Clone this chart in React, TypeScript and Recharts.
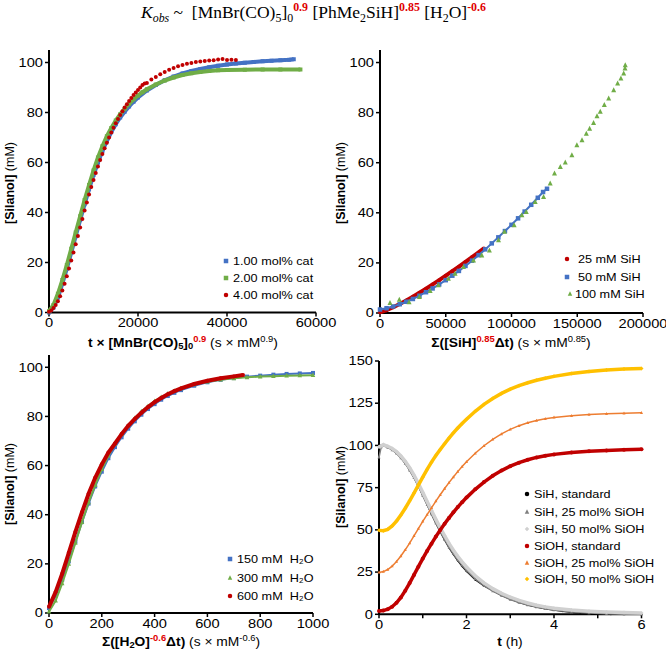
import React from 'react';
import { ScatterChart, Scatter, XAxis, YAxis } from 'recharts';

// ---------- top-left: t x [cat]^0.9 ----------
const cat1 = [
  [0, 0], [1000, 2], [2000, 6], [3000, 11.5], [4000, 17.5], [5000, 24], [6000, 30.5], [7000, 37],
  [8000, 43.3], [9000, 49.3], [10000, 55], [11000, 60], [12000, 64.6], [13000, 68.6], [14000, 72.2],
  [15000, 75.3], [16000, 78], [17000, 80.3], [18000, 82.4], [19000, 84.3], [20000, 86], [22000, 88.8],
  [24000, 91], [26000, 92.9], [28000, 94.4], [30000, 95.6], [32000, 96.6], [34000, 97.4], [36000, 98.1],
  [38000, 98.7], [40000, 99.2], [42000, 99.6], [44000, 99.9], [46000, 100.2], [48000, 100.5],
  [50000, 100.7], [52000, 100.9], [54000, 101.1], [55000, 101.3],
];
const cat2 = [
  [0, 0.5], [1000, 3], [2000, 7.5], [3000, 13], [4000, 19], [5000, 25.5], [6000, 32], [7000, 38.5],
  [8000, 45], [9000, 51], [10000, 56.8], [11000, 62], [12000, 66.5], [13000, 70.5], [14000, 73.8],
  [15000, 76.8], [16000, 79.3], [17000, 81.5], [18000, 83.5], [19000, 85.3], [20000, 86.8], [21000, 88.1],
  [22000, 89.3], [24000, 91.2], [26000, 92.8], [28000, 94], [30000, 95], [32000, 95.7], [34000, 96.2],
  [36000, 96.6], [38000, 96.9], [40000, 97], [44000, 97.1], [48000, 97.2], [52000, 97.2], [56500, 97.2],
];
const cat4 = [
  [0, 0.3], [500, 0.8], [1000, 1.8], [1500, 3], [2000, 4.5], [2500, 6.5], [3000, 8.8], [3500, 11.5],
  [4000, 14.5], [4500, 17.6], [5000, 20.8], [5500, 24], [6000, 27.3], [6500, 30.6], [7000, 34],
  [7500, 37.4], [8000, 40.8], [8500, 44], [9000, 47.2], [9500, 50.2], [10000, 53], [10500, 55.8],
  [11000, 58.4], [11500, 61], [12000, 63.4], [12500, 65.7], [13000, 67.9], [13500, 70], [14000, 72],
  [14500, 73.9], [15000, 75.7], [15500, 77.4], [16000, 79], [16500, 80.5], [17000, 82], [17500, 83.3],
  [18000, 84.6], [18500, 85.8], [19000, 87], [19500, 88], [20000, 89], [20500, 90], [21000, 91],
  [21500, 91.6], [22000, 91.8], [23000, 93.2], [24000, 94.2], [25000, 95.3], [26000, 96.2], [27000, 97.1],
  [28000, 97.8], [29000, 98.5], [30000, 99], [31000, 99.5], [32000, 99.8], [33000, 100.2], [34000, 100.4],
  [35000, 100.6], [36000, 100.8], [37000, 100.9], [38000, 101.2], [39000, 101.4], [40000, 101],
  [41000, 101.1], [42000, 101],
];

// ---------- top-right: sum([SiH]^0.85 dt) ----------
const sih25 = [
  [0, 0.3], [5000, 1.1], [10000, 2.3], [15000, 3.6], [20000, 5], [25000, 6.5], [30000, 8.1], [35000, 9.7],
  [40000, 11.4], [45000, 13.1], [50000, 14.9], [55000, 16.7], [60000, 18.5], [65000, 20.4], [70000, 22.3],
  [75000, 24.2], [79000, 25.8],
];
const sih50 = [
  [0, 1.4], [5000, 1.9], [10000, 2.6], [15000, 3.5], [20000, 4.5], [25000, 5.6], [30000, 6.9], [35000, 8.3],
  [40000, 9.8], [45000, 11.4], [50000, 13.1], [55000, 14.9], [60000, 16.8], [65000, 18.8], [70000, 20.9],
  [75000, 23.1], [80000, 25.4], [85000, 27.8], [90000, 30.2], [95000, 32.7], [100000, 35.2], [105000, 37.8],
  [110000, 40.5], [115000, 43.2], [120000, 46], [124000, 48.3], [127000, 49.6],
];
const sih100 = [
  [7600, 4], [14700, 5.3], [22100, 4.3], [30000, 6.4], [38100, 8.8], [44400, 11.1], [52000, 13.7],
  [57100, 15.7], [63500, 18.4], [71100, 21], [77400, 23], [83200, 25], [90100, 29], [94700, 32.4],
  [102000, 35], [107900, 39], [111200, 40.3], [118000, 44.3], [124400, 46.3], [129400, 51.7], [132700, 55.7],
  [137100, 58.3], [140900, 60.1], [145900, 63], [149700, 67], [153600, 69], [156900, 71.6], [159400, 73.6],
  [162400, 75.9], [165000, 78.6], [167500, 80.3], [170600, 83], [173900, 85.6], [177700, 88.9],
  [180700, 91.6], [183200, 93.6], [185300, 95.6], [186300, 97.6], [186500, 98.9],
];

// ---------- bottom-left: sum([H2O]^-0.6 dt) ----------
const h2o150 = [
  [0, 2], [25, 7], [50, 13.5], [75, 21], [100, 29], [125, 37], [150, 44.5], [175, 51.5], [200, 57.5],
  [225, 63], [250, 67.5], [275, 71.5], [300, 75], [325, 78], [350, 80.7], [375, 83], [400, 85], [425, 86.8],
  [450, 88.3], [475, 89.6], [500, 90.7], [550, 92.5], [600, 93.9], [650, 94.9], [700, 95.6], [750, 96.2],
  [800, 96.6], [850, 97], [900, 97.3], [950, 97.5], [1000, 97.7],
];
const h2o300 = [
  [0, 0.5], [25, 5], [50, 12], [75, 20], [100, 28.5], [125, 37], [150, 45], [175, 52], [200, 58.5],
  [225, 64], [250, 68.8], [275, 72.8], [300, 76.3], [325, 79.3], [350, 82], [375, 84.2], [400, 86.2],
  [425, 87.8], [450, 89.2], [475, 90.4], [500, 91.4], [550, 93], [600, 94.1], [650, 94.9], [700, 95.5],
  [750, 95.9], [800, 96.2], [850, 96.4], [900, 96.6], [950, 96.7], [1000, 96.8],
];
const h2o600 = [
  [0, 2.5], [25, 8.5], [50, 16], [75, 24.5], [100, 33], [125, 41], [150, 48.5], [175, 55], [200, 60.5],
  [225, 65.3], [250, 69], [275, 72.8], [300, 76.2], [325, 79], [350, 81.5], [375, 83.8], [400, 85.8],
  [425, 87.5], [450, 89], [475, 90.3], [500, 91.4], [550, 93.2], [600, 94.5], [650, 95.5], [700, 96.3],
  [735, 96.9],
];

// ---------- bottom-right: time course (h) ----------
const sihStd = [
  [0, 100], [0.1, 100.3], [0.2, 99], [0.3, 97.5], [0.4, 95.5], [0.5, 92.8], [0.6, 89.5], [0.7, 85.5],
  [0.8, 81], [0.9, 76], [1.0, 70.5], [1.1, 65], [1.2, 59.5], [1.3, 54], [1.4, 49], [1.5, 44], [1.6, 39.5],
  [1.7, 35.5], [1.8, 31.8], [1.9, 28.5], [2.0, 25.5], [2.2, 20.5], [2.4, 16.8], [2.6, 14], [2.8, 11.3],
  [3.0, 9], [3.2, 7.1], [3.4, 5.5], [3.6, 4.3], [3.8, 3.3], [4.0, 2.5], [4.2, 1.8], [4.4, 1.2], [4.6, 0.8],
  [4.8, 0.5], [5.0, 0.3], [5.3, 0.1], [5.6, 0], [6.0, 0],
];
const sih25oh = [
  [0, 93], [0.05, 99], [0.1, 99.8], [0.2, 98.8], [0.3, 97.3], [0.4, 95.3], [0.5, 92.6], [0.6, 89.3],
  [0.7, 85.3], [0.8, 80.8], [0.9, 75.8], [1.0, 70.3], [1.1, 64.8], [1.2, 59.3], [1.3, 54], [1.4, 49],
  [1.5, 44.2], [1.6, 39.8], [1.7, 35.8], [1.8, 32.2], [1.9, 29], [2.0, 26], [2.2, 21], [2.4, 17],
  [2.6, 13.8], [2.8, 11.1], [3.0, 8.8], [3.2, 7], [3.4, 5.5], [3.6, 4.3], [3.8, 3.3], [4.0, 2.5],
  [4.4, 1.4], [4.8, 0.7], [5.2, 0.3], [5.6, 0.1], [6.0, 0],
];
const sih50oh = [
  [0, 99], [0.1, 100.5], [0.2, 99.5], [0.3, 98.2], [0.4, 96.3], [0.5, 93.8], [0.6, 90.6], [0.7, 86.8],
  [0.8, 82.4], [0.9, 77.5], [1.0, 72.2], [1.1, 66.8], [1.2, 61.4], [1.3, 56.2], [1.4, 51.2], [1.5, 46.5],
  [1.6, 42], [1.7, 38], [1.8, 34.3], [1.9, 31], [2.0, 28], [2.2, 22.8], [2.4, 18.6], [2.6, 15.2],
  [2.8, 12.4], [3.0, 10.1], [3.2, 8.2], [3.4, 6.7], [3.6, 5.4], [3.8, 4.4], [4.0, 3.6], [4.4, 2.5],
  [4.8, 1.8], [5.2, 1.3], [5.6, 1], [6.0, 0.8],
];
const siohStd = [
  [0, 2], [0.1, 2.2], [0.2, 3], [0.3, 4.5], [0.4, 6.8], [0.5, 10], [0.6, 14], [0.7, 18.5], [0.8, 23.3],
  [0.9, 28.2], [1.0, 33], [1.1, 37.5], [1.2, 41.8], [1.3, 46], [1.4, 49.9], [1.5, 53.6], [1.6, 57.1],
  [1.7, 60.4], [1.8, 63.5], [1.9, 66.4], [2.0, 69.1], [2.2, 74], [2.4, 78.3], [2.6, 82], [2.8, 85.1],
  [3.0, 87.7], [3.2, 89.8], [3.4, 91.5], [3.6, 92.9], [3.8, 93.9], [4.0, 94.7], [4.4, 95.8], [4.8, 96.5],
  [5.2, 97], [5.6, 97.4], [6.0, 97.7],
];
const sioh25 = [
  [0, 24.8], [0.1, 25.3], [0.2, 26.5], [0.3, 28.5], [0.4, 31.3], [0.5, 34.5], [0.6, 38.2], [0.7, 42.2],
  [0.8, 46.5], [0.9, 50.8], [1.0, 55], [1.1, 59], [1.2, 63], [1.3, 67], [1.4, 70.8], [1.5, 74.5],
  [1.6, 78], [1.7, 81.3], [1.8, 84.5], [1.9, 87.5], [2.0, 90.3], [2.2, 95.4], [2.4, 99.8], [2.6, 103.6],
  [2.8, 106.8], [3.0, 109.5], [3.2, 111.7], [3.4, 113.4], [3.6, 114.8], [3.8, 115.8], [4.0, 116.6],
  [4.4, 117.6], [4.8, 118.3], [5.2, 118.8], [5.6, 119.1], [6.0, 119.3],
];
const sioh50 = [
  [0, 49.7], [0.1, 49.5], [0.2, 50.3], [0.3, 52.3], [0.4, 55.2], [0.5, 58.8], [0.6, 62.8], [0.7, 67.2],
  [0.8, 71.8], [0.9, 76.5], [1.0, 81.2], [1.1, 85.8], [1.2, 90.1], [1.3, 94], [1.4, 97.6], [1.5, 101],
  [1.6, 104.3], [1.7, 107.4], [1.8, 110.3], [1.9, 113], [2.0, 115.5], [2.2, 120.2], [2.4, 124.3],
  [2.6, 127.8], [2.8, 130.8], [3.0, 133.3], [3.2, 135.4], [3.4, 137.1], [3.6, 138.6], [3.8, 139.8],
  [4.0, 140.9], [4.4, 142.6], [4.8, 143.8], [5.2, 144.6], [5.6, 145.2], [6.0, 145.6],
];

const yTicks105 = [0, 20, 40, 60, 80, 100];
const yTicks150 = [0, 25, 50, 75, 100, 125, 150];

const BLUE = '#4472C4';
const GREEN = '#70AD47';
const RED = '#C00000';
const ORANGE = '#ED7D31';
const YELLOW = '#FFC000';
const FONT = '"Liberation Sans", Arial, sans-serif';

const pts = (arr: number[][]) => arr.map(([x, y]) => ({ x, y }));

const Marker = ({ kind, color, size, cx, cy }: any) => {
  const s = size;
  if (cx == null || cy == null) return null;
  if (kind === 'square') return <rect x={cx - s / 2} y={cy - s / 2} width={s} height={s} fill={color} />;
  if (kind === 'triangle')
    return <polygon points={`${cx},${cy - s * 0.6} ${cx - s / 2},${cy + s * 0.4} ${cx + s / 2},${cy + s * 0.4}`} fill={color} />;
  if (kind === 'diamond')
    return <polygon points={`${cx},${cy - s / 2} ${cx + s / 2},${cy} ${cx},${cy + s / 2} ${cx - s / 2},${cy}`} fill={color} />;
  return <circle cx={cx} cy={cy} r={s / 2} fill={color} />;
};

const XTick = (props: any) => {
  const { x, y, payload, skipOdd } = props;
  if (skipOdd && payload.value % 2 !== 0) return null;
  return (
    <g transform={`translate(${x},${y}) scale(1.22,1)`}>
      <text x={0} y={0} dy="0.71em" textAnchor="middle" fontSize={12} fontFamily={FONT} fill="#000">{payload.value}</text>
    </g>
  );
};

const YTick = (props: any) => {
  const { x, y, payload } = props;
  return (
    <g transform={`translate(${x},${y}) scale(1.22,1)`}>
      <text x={0} y={0} dy="0.355em" textAnchor="end" fontSize={12} fontFamily={FONT} fill="#000">{payload.value}</text>
    </g>
  );
};

type Series = { name: string; data: number[][]; kind: string; color: string; size: number; line?: number };

const Panel = ({ box, xDomain, xTicks, yDomain, yTicks, series, skipOdd }: any) => {
  const YW = 45, MT = 6, MR = 30, XH = 30;
  return (
    <div style={{ position: 'absolute', left: box.x - YW, top: box.y - MT }}>
      <ScatterChart width={box.w + YW + MR} height={box.h + MT + XH} margin={{ top: MT, right: MR, bottom: 0, left: 0 }}>
        <XAxis type="number" dataKey="x" domain={xDomain} ticks={xTicks} interval={0} height={XH}
          axisLine={{ stroke: '#000', strokeWidth: 2 }} tickLine={{ stroke: '#000', strokeWidth: 1.5 }} tickSize={4}
          tick={(p: any) => <XTick {...p} skipOdd={skipOdd} />} />
        <YAxis type="number" dataKey="y" domain={yDomain} ticks={yTicks} interval={0} width={YW}
          axisLine={{ stroke: '#000', strokeWidth: 2 }} tickLine={{ stroke: '#000', strokeWidth: 1.5 }} tickSize={4}
          tick={(p: any) => <YTick {...p} />} />
        {series.map((s: Series) => (
          <Scatter key={s.name} name={s.name} data={pts(s.data)} isAnimationActive={false}
            line={s.line ? { stroke: s.color, strokeWidth: s.line } : false}
            shape={(p: any) => <Marker kind={s.kind} color={s.color} size={s.size} cx={p.cx} cy={p.cy} />} />
        ))}
      </ScatterChart>
    </div>
  );
};

const sup = (txt: string, red?: boolean) => (
  <span style={{ fontSize: '0.68em', position: 'relative', top: '-0.55em', color: red ? '#E00000' : undefined, fontWeight: red ? 700 : undefined }}>{txt}</span>
);
const sub = (txt: string) => (
  <span style={{ fontSize: '0.68em', position: 'relative', top: '0.3em' }}>{txt}</span>
);

const XTitle = ({ cx, cy, children }: any) => (
  <div style={{ position: 'absolute', left: cx - 160, top: cy - 8, width: 320, textAlign: 'center', fontSize: 12,
    lineHeight: '16px', whiteSpace: 'nowrap', transform: 'scaleX(1.15)' }}>{children}</div>
);

const YTitle = ({ cx, cy }: any) => (
  <div style={{ position: 'absolute', left: cx - 60, top: cy - 8, width: 120, textAlign: 'center', fontSize: 12.5,
    lineHeight: '16px', whiteSpace: 'nowrap', transform: 'rotate(-90deg)' }}>
    <b>[Silanol]</b> (mM)
  </div>
);

const Legend = ({ items }: any) => (
  <>
    {items.map((it: any) => (
      <div key={it.label} style={{ position: 'absolute', left: it.mx - 4, top: it.y - 8, height: 16, lineHeight: '16px', whiteSpace: 'pre' }}>
        <svg width={8} height={16} style={{ position: 'absolute', left: 0, top: 0 }}>
          <Marker kind={it.kind} color={it.color} size={4.5} cx={4} cy={8} />
        </svg>
        <span style={{ position: 'absolute', left: it.tx - it.mx + 4, top: 0, fontSize: 11, display: 'inline-block',
          transform: 'scaleX(1.15)', transformOrigin: 'left center' }}>{it.label}</span>
      </div>
    ))}
  </>
);

export default function App() {
  return (
    <div style={{ position: 'absolute', left: 0, top: 0, width: 666, height: 652, background: '#fff', fontFamily: FONT, color: '#000' }}>
      <div style={{ position: 'absolute', left: 141, top: 1, whiteSpace: 'nowrap', fontFamily: '"Liberation Serif", serif', fontSize: 17.5, lineHeight: '22px' }}>
        <i>K</i><i>{sub('obs')}</i> ~&nbsp; [MnBr(CO){sub('5')}]{sub('0')}{sup('0.9', true)} [PhMe{sub('2')}SiH]{sup('0.85', true)} [H{sub('2')}O]{sup('-0.6', true)}
      </div>

      <Panel box={{ x: 49, y: 49.5, w: 267, h: 262.5 }} xDomain={[0, 60000]} xTicks={[0, 20000, 40000, 60000]}
        yDomain={[0, 105]} yTicks={yTicks105}
        series={[
          { name: '1.00 mol% cat', data: cat1, kind: 'square', color: BLUE, size: 4, line: 4 },
          { name: '2.00 mol% cat', data: cat2, kind: 'square', color: GREEN, size: 4, line: 4 },
          { name: '4.00 mol% cat', data: cat4, kind: 'circle', color: RED, size: 4 },
        ]} />
      <Panel box={{ x: 380, y: 49.5, w: 263, h: 263 }} xDomain={[0, 200000]} xTicks={[0, 50000, 100000, 150000, 200000]}
        yDomain={[0, 105]} yTicks={yTicks105}
        series={[
          { name: '25 mM SiH', data: sih25, kind: 'circle', color: RED, size: 4, line: 4 },
          { name: '50 mM SiH', data: sih50, kind: 'square', color: BLUE, size: 4.5, line: 2 },
          { name: '100 mM SiH', data: sih100, kind: 'triangle', color: GREEN, size: 5 },
        ]} />
      <Panel box={{ x: 49, y: 355.4, w: 264, h: 258 }} xDomain={[0, 1000]} xTicks={[0, 200, 400, 600, 800, 1000]}
        yDomain={[0, 105]} yTicks={yTicks105}
        series={[
          { name: '150 mM H2O', data: h2o150, kind: 'square', color: BLUE, size: 4, line: 2 },
          { name: '300 mM H2O', data: h2o300, kind: 'triangle', color: GREEN, size: 4.5, line: 2 },
          { name: '600 mM H2O', data: h2o600, kind: 'circle', color: RED, size: 4, line: 4 },
        ]} />
      <Panel box={{ x: 379.3, y: 360.7, w: 262.5, h: 253.3 }} xDomain={[0, 6]} xTicks={[0, 1, 2, 3, 4, 5, 6]} skipOdd
        yDomain={[0, 150]} yTicks={yTicks150}
        series={[
          { name: 'SiH, standard', data: sihStd, kind: 'circle', color: '#000', size: 2, line: 1.5 },
          { name: 'SiH, 25 mol% SiOH', data: sih25oh, kind: 'triangle', color: '#7F7F7F', size: 3, line: 1.5 },
          { name: 'SiH, 50 mol% SiOH', data: sih50oh, kind: 'diamond', color: '#D0D0D0', size: 4, line: 3.5 },
          { name: 'SiOH, standard', data: siohStd, kind: 'circle', color: RED, size: 4, line: 3.5 },
          { name: 'SiOH, 25 mol% SiOH', data: sioh25, kind: 'triangle', color: ORANGE, size: 3, line: 1.5 },
          { name: 'SiOH, 50 mol% SiOH', data: sioh50, kind: 'diamond', color: YELLOW, size: 4, line: 3.5 },
        ]} />

      <XTitle cx={182.5} cy={342.7}>
        <b>t × [MnBr(CO){sub('5')}]{sub('0')}</b>{sup('0.9', true)} (s × mM{sup('0.9')})
      </XTitle>
      <XTitle cx={511} cy={342.7}>
        <b>Σ([SiH]</b>{sup('0.85', true)}<b>Δt)</b> (s × mM{sup('0.85')})
      </XTitle>
      <XTitle cx={181} cy={641.7}>
        <b>Σ([H{sub('2')}O]</b>{sup('-0.6', true)}<b>Δt)</b> (s × mM{sup('-0.6')})
      </XTitle>
      <XTitle cx={510} cy={641.7}>
        <b>t</b> (h)
      </XTitle>

      <YTitle cx={10} cy={183} />
      <YTitle cx={341} cy={183} />
      <YTitle cx={10} cy={484} />
      <YTitle cx={341} cy={487} />

      <Legend items={[
        { label: '1.00 mol% cat', kind: 'square', color: BLUE, mx: 226, tx: 232.5, y: 260.7 },
        { label: '2.00 mol% cat', kind: 'square', color: GREEN, mx: 226, tx: 232.5, y: 278 },
        { label: '4.00 mol% cat', kind: 'circle', color: RED, mx: 226, tx: 232.5, y: 295.3 },
        { label: '25 mM SiH', kind: 'circle', color: RED, mx: 567.3, tx: 578.3, y: 259 },
        { label: '50 mM SiH', kind: 'square', color: BLUE, mx: 567.3, tx: 578.3, y: 276.7 },
        { label: '100 mM SiH', kind: 'triangle', color: GREEN, mx: 570, tx: 575, y: 294.3 },
        { label: '150 mM  H₂O', kind: 'square', color: BLUE, mx: 230, tx: 237.3, y: 559 },
        { label: '300 mM  H₂O', kind: 'triangle', color: GREEN, mx: 230, tx: 237.3, y: 577.7 },
        { label: '600 mM  H₂O', kind: 'circle', color: RED, mx: 230, tx: 237.3, y: 595.7 },
        { label: 'SiH, standard', kind: 'circle', color: '#000', mx: 527.3, tx: 534, y: 494 },
        { label: 'SiH, 25 mol% SiOH', kind: 'triangle', color: '#7F7F7F', mx: 527.3, tx: 534, y: 511.7 },
        { label: 'SiH, 50 mol% SiOH', kind: 'diamond', color: '#D0D0D0', mx: 527.3, tx: 534, y: 529 },
        { label: 'SiOH, standard', kind: 'circle', color: RED, mx: 527.3, tx: 534, y: 545.7 },
        { label: 'SiOH, 25 mol% SiOH', kind: 'triangle', color: ORANGE, mx: 527.3, tx: 534, y: 562.7 },
        { label: 'SiOH, 50 mol% SiOH', kind: 'diamond', color: YELLOW, mx: 527.3, tx: 534, y: 579.3 },
      ]} />
    </div>
  );
}
